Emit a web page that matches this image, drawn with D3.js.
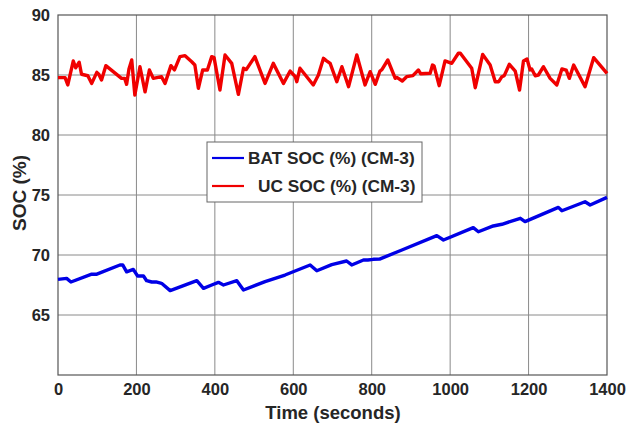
<!DOCTYPE html>
<html><head><meta charset="utf-8">
<script src="https://cdn.jsdelivr.net/npm/d3@7"></script>
<style>body{margin:0;background:#fff}svg{display:block}</style>
</head><body>
<svg id="c" width="627" height="426"></svg>
<script>
const xTicks = [0,200,400,600,800,1000,1200,1400];
const yTicks = [60,65,70,75,80,85,90];
const yTickLabels = ["","65","70","75","80","85","90"];

const batTime = [0,22,33,86,99,158,165,175,192,203,218,226,239,250,264,286,354,371,392,409,422,456,473,528,579,643,660,698,736,749,779,790,804,820,877,966,983,1059,1072,1110,1132,1179,1191,1276,1285,1344,1357,1400];
const batSOC  = [67.97,68.05,67.75,68.4,68.4,69.17,69.17,68.6,68.8,68.25,68.25,67.86,67.75,67.76,67.64,67.03,67.86,67.22,67.5,67.72,67.5,67.86,67.08,67.78,68.33,69.17,68.69,69.2,69.5,69.17,69.58,69.58,69.64,69.66,70.42,71.61,71.25,72.28,71.94,72.42,72.56,73.06,72.78,73.97,73.69,74.44,74.17,74.8];

const ucTime = [0,18,25,39,45,54,60,76,86,99,104,111,122,162,170,175,181,188,196,209,222,233,243,264,273,288,297,311,324,341,349,358,369,381,392,398,413,426,443,460,473,480,502,528,549,575,592,605,609,617,651,664,677,684,694,711,724,741,762,783,796,809,821,826,841,860,864,878,889,905,919,925,949,955,959,972,987,1004,1021,1026,1055,1064,1083,1102,1115,1124,1132,1138,1151,1166,1177,1187,1196,1204,1208,1217,1225,1238,1255,1272,1285,1296,1304,1315,1344,1366,1400];
const ucSOC  = [84.78,84.78,84.17,86.17,85.6,86.06,85.06,84.94,84.3,85.22,85.06,84.58,85.78,84.72,84.72,84.22,85.5,86.25,83.33,85.69,83.6,85.42,84.72,84.86,84.3,85.78,85.42,86.53,86.61,86.1,85.83,83.89,85.42,85.42,86.53,86.45,83.75,86.67,85.97,83.39,85.56,85.45,86.53,84.3,85.97,84.3,85.33,84.86,84.44,85.56,84.17,85.0,86.39,86.2,85.97,84.44,85.69,84.03,86.67,84.17,85.28,84.22,85.33,85.45,86.25,84.72,84.8,84.5,84.86,84.95,85.42,85.1,85.14,85.83,85.75,84.11,86.17,85.97,86.81,86.81,85.56,83.94,86.72,85.83,84.44,84.44,84.86,84.95,85.89,85.33,83.75,86.17,86.33,85.42,85.5,84.94,85.0,85.69,84.72,84.17,85.5,85.4,84.72,85.83,84.03,86.44,85.14];

const seriesNames = ["BAT SOC (%) (CM-3)","UC SOC (%) (CM-3)"];
const seriesColors = ["#0000e6","#f00000"];

const svg = d3.select("#c");
const m = {l:58, r:607, t:15, b:375};
const x = d3.scaleLinear().domain([0,1400]).range([m.l,m.r]);
const y = d3.scaleLinear().domain([60,90]).range([m.b,m.t]);
const font = "'Liberation Sans', Arial, sans-serif";
const textCol = "#262626";

svg.append("rect").attr("x",m.l).attr("y",m.t).attr("width",m.r-m.l).attr("height",m.b-m.t).attr("fill","#fff");

// grid
const g = svg.append("g");
g.selectAll(".vx").data(xTicks.slice(1,-1)).join("line")
  .attr("x1",d=>x(d)).attr("x2",d=>x(d)).attr("y1",m.t).attr("y2",m.b)
  .attr("stroke","#8a8a8a").attr("stroke-width",1);
g.selectAll(".hy").data(yTicks.slice(1,-1)).join("line")
  .attr("y1",d=>y(d)).attr("y2",d=>y(d)).attr("x1",m.l).attr("x2",m.r)
  .attr("stroke","#8a8a8a").attr("stroke-width",1);

// axes
const xAxis = svg.append("g").attr("transform",`translate(0,${m.b})`)
  .call(d3.axisBottom(x).tickValues(xTicks).tickSize(0).tickPadding(8).tickFormat(d3.format("d")));
const yAxis = svg.append("g").attr("transform",`translate(${m.l},0)`)
  .call(d3.axisLeft(y).tickValues(yTicks).tickSize(0).tickPadding(8).tickFormat((d,i)=>yTickLabels[i]));
[xAxis,yAxis].forEach(a=>{
  a.select(".domain").remove();
  a.selectAll("text").attr("font-family",font).attr("font-weight","bold").attr("font-size",16.5).attr("fill",textCol);
});
xAxis.selectAll("text").attr("dy","0.75em");

// frame
svg.append("rect").attr("x",m.l).attr("y",m.t).attr("width",m.r-m.l).attr("height",m.b-m.t)
  .attr("fill","none").attr("stroke","#555").attr("stroke-width",1.2);

// lines
const line = d3.line().x(d=>x(d[0])).y(d=>y(d[1]));
const batData = batTime.map((t,i)=>[t,batSOC[i]]);
const ucData = ucTime.map((t,i)=>[t,ucSOC[i]]);
svg.append("path").datum(batData).attr("d",line).attr("fill","none")
  .attr("stroke",seriesColors[0]).attr("stroke-width",3.4).attr("stroke-linejoin","round");
svg.append("path").datum(ucData).attr("d",line).attr("fill","none")
  .attr("stroke",seriesColors[1]).attr("stroke-width",3.4).attr("stroke-linejoin","round");

// axis titles
svg.append("text").attr("x",333).attr("y",419).attr("text-anchor","middle")
  .attr("font-family",font).attr("font-weight","bold").attr("font-size",18.5).attr("fill",textCol)
  .text("Time (seconds)");
svg.append("text").attr("transform","translate(26,193) rotate(-90)").attr("text-anchor","middle")
  .attr("font-family",font).attr("font-weight","bold").attr("font-size",19).attr("fill",textCol)
  .text("SOC (%)");

// legend
const lg = svg.append("g");
lg.append("rect").attr("x",207).attr("y",142).attr("width",215).attr("height",60)
  .attr("fill","#fff").attr("stroke","#666").attr("stroke-width",1);
const legendTextX = [248,258];
seriesNames.forEach((n,i)=>{
  const yy = 158 + i*28;
  lg.append("line").attr("x1",212).attr("x2",244).attr("y1",yy).attr("y2",yy)
    .attr("stroke",seriesColors[i]).attr("stroke-width",2.2);
  lg.append("text").attr("x",legendTextX[i]).attr("y",yy).attr("dy","0.36em")
    .attr("font-family",font).attr("font-weight","bold").attr("font-size",17.3).attr("fill",textCol)
    .text(n);
});
</script>
</body></html>
